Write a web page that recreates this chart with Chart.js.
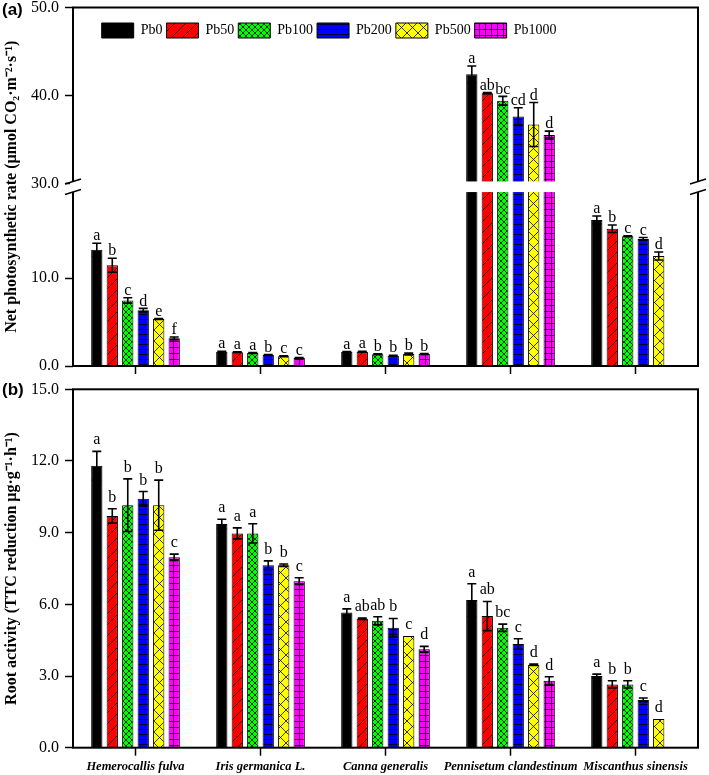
<!DOCTYPE html>
<html>
<head>
<meta charset="utf-8">
<script src="https://cdn.jsdelivr.net/npm/chart.js@4.4.1/dist/chart.umd.min.js"></script>
<style>
  html, body { margin: 0; padding: 0; background: #fff; }
  #page { position: relative; width: 709px; height: 775px; overflow: hidden; }
  canvas { position: absolute; left: 0; }
  #chartA { top: 0; }
  #chartB { top: 380px; }
  .panel { position: absolute; left: 2px; font: bold 17px "Liberation Sans", Arial, sans-serif; color: #000; }
</style>
</head>
<body>
<div id="page">
  <canvas id="chartA" width="709" height="380"></canvas>
  <canvas id="chartB" width="709" height="395"></canvas>
  <div class="panel" style="top:0px">(a)</div>
  <div class="panel" style="top:380px">(b)</div>
</div>
<script>
const species = ['Hemerocallis fulva', 'Iris germanica L.', 'Canna generalis', 'Pennisetum clandestinum', 'Miscanthus sinensis'];
const treatments = ['Pb0', 'Pb50', 'Pb100', 'Pb200', 'Pb500', 'Pb1000'];

// (a) net photosynthetic rate
const pnPb0 = [13.2, 1.63, 1.60, 42.4, 16.6];
const pnPb50 = [11.45, 1.55, 1.63, 40.25, 15.6];
const pnPb100 = [7.45, 1.48, 1.33, 39.4, 14.75];
const pnPb200 = [6.35, 1.25, 1.17, 37.6, 14.45];
const pnPb500 = [5.35, 1.10, 1.36, 36.7, 12.5];
const pnPb1000 = [3.15, 0.90, 1.36, 35.5, null];

const pnPb0Sd = [0.75, 0.05, 0.05, 0.95, 0.45];
const pnPb50Sd = [0.8, 0.05, 0.05, 0.08, 0.42];
const pnPb100Sd = [0.3, 0.05, 0.05, 0.5, 0.05];
const pnPb200Sd = [0.2, 0.05, 0.05, 1.0, 0.15];
const pnPb500Sd = [0.05, 0.05, 0.1, 2.5, 0.45];
const pnPb1000Sd = [0.15, 0.05, 0.05, 0.45, null];

const pnPb0Sig = ['a', 'a', 'a', 'a', 'a'];
const pnPb50Sig = ['b', 'a', 'a', 'ab', 'b'];
const pnPb100Sig = ['c', 'a', 'b', 'bc', 'c'];
const pnPb200Sig = ['d', 'b', 'b', 'cd', 'c'];
const pnPb500Sig = ['e', 'c', 'b', 'd', 'd'];
const pnPb1000Sig = ['f', 'c', 'b', 'd', ''];

const pnTicks = [0, 10, 30, 40, 50];
const pnBreak = [20, 30];

// (b) root activity
const raPb0 = [11.8, 9.36, 5.66, 6.18, 3.0];
const raPb50 = [9.7, 8.97, 5.4, 5.51, 2.65];
const raPb100 = [10.15, 8.97, 5.31, 5.02, 2.65];
const raPb200 = [10.42, 7.64, 5.02, 4.34, 2.0];
const raPb500 = [10.15, 7.64, 4.67, 3.47, 1.2];
const raPb1000 = [7.97, 6.97, 4.12, 2.8, null];

const raPb0Sd = [0.6, 0.2, 0.15, 0.68, 0.08];
const raPb50Sd = [0.3, 0.23, 0.03, 0.61, 0.15];
const raPb100Sd = [1.1, 0.4, 0.17, 0.15, 0.15];
const raPb200Sd = [0.3, 0.18, 0.39, 0.22, 0.08];
const raPb500Sd = [1.05, 0.05, 0, 0.03, 0];
const raPb1000Sd = [0.13, 0.14, 0.12, 0.17, null];

const raPb0Sig = ['a', 'a', 'a', 'a', 'a'];
const raPb50Sig = ['b', 'a', 'ab', 'ab', 'b'];
const raPb100Sig = ['b', 'a', 'ab', 'bc', 'b'];
const raPb200Sig = ['b', 'b', 'b', 'c', 'c'];
const raPb500Sig = ['b', 'b', 'c', 'd', 'd'];
const raPb1000Sig = ['c', 'c', 'd', 'd', ''];

const raTicks = [0, 3, 6, 9, 12, 15];

const serif = '"Liberation Serif", "Times New Roman", serif';

function pattern(color, size, draw) {
    const c = document.createElement('canvas');
    c.width = size;
    c.height = size;
    const g = c.getContext('2d');
    g.fillStyle = color;
    g.fillRect(0, 0, size, size);
    g.strokeStyle = '#000';
    g.lineWidth = 0.8;
    g.beginPath();
    draw(g, size);
    g.stroke();
    return g.createPattern(c, 'repeat');
}

const fills = [
    '#000000',
    pattern('#ff0000', 11, (g, s) => { g.moveTo(-1, s + 1); g.lineTo(s + 1, -1); }),
    pattern('#00ff00', 6, (g, s) => { g.moveTo(0, 0); g.lineTo(s, s); g.moveTo(0, s); g.lineTo(s, 0); }),
    pattern('#0000ff', 5, (g, s) => { g.moveTo(0, s - 0.5); g.lineTo(s, s - 0.5); }),
    pattern('#ffff00', 11, (g, s) => { g.moveTo(0, 0); g.lineTo(s, s); g.moveTo(0, s); g.lineTo(s, 0); }),
    pattern('#ff00ff', 6, (g, s) => { g.moveTo(0, s - 0.5); g.lineTo(s, s - 0.5); g.moveTo(s - 0.5, 0); g.lineTo(s - 0.5, s); })
];

// linear scale with a squeezed gap between pnBreak[0] and pnBreak[1]
const breakGap = 0.75;
class BrokenScale extends Chart.LinearScale {
    toSpan(v) {
        const lo = pnBreak[0], hi = pnBreak[1];
        if (v <= lo) return v;
        if (v >= hi) return v - hi + lo + breakGap;
        return lo + (v - lo) / (hi - lo) * breakGap;
    }
    fromSpan(d) {
        const lo = pnBreak[0], hi = pnBreak[1];
        if (d <= lo) return d;
        if (d >= lo + breakGap) return d - lo - breakGap + hi;
        return lo + (d - lo) / breakGap * (hi - lo);
    }
    getPixelForValue(v) {
        if (v === null || isNaN(v)) return NaN;
        const a = this.toSpan(this.min), b = this.toSpan(this.max);
        return this.getPixelForDecimal((this.toSpan(v) - a) / (b - a));
    }
    getValueForPixel(p) {
        const a = this.toSpan(this.min), b = this.toSpan(this.max);
        return this.fromSpan(a + this.getDecimalForPixel(p) * (b - a));
    }
}
BrokenScale.id = 'broken';
BrokenScale.defaults = Object.assign({}, Chart.LinearScale.defaults);
Chart.register(BrokenScale);

function makeDatasets(series) {
    return series.map((data, i) => ({
        label: treatments[i],
        data: data,
        backgroundColor: fills[i],
        borderColor: '#000',
        borderWidth: 1,
        barPercentage: 0.73,
        categoryPercentage: 0.743
    }));
}

function decorations(errs, sigs, hasBreak) {
    return {
        id: 'decorations',
        afterDatasetsDraw(chart) {
            const ctx = chart.ctx;
            const area = chart.chartArea;
            const y = chart.scales.y;
            ctx.save();
            ctx.strokeStyle = '#000';
            ctx.lineWidth = 2;
            ctx.strokeRect(area.left, area.top, area.right - area.left, area.bottom - area.top);
            if (hasBreak) {
                const top = y.getPixelForValue(pnBreak[1]) - 2;
                const bottom = y.getPixelForValue(pnBreak[0]) + 2;
                ctx.fillStyle = '#fff';
                ctx.fillRect(area.left - 3, top, area.right - area.left + 6, bottom - top);
                ctx.lineWidth = 1.5;
                [area.left, area.right].forEach(x => {
                    [top, bottom].forEach(yy => {
                        ctx.beginPath();
                        ctx.moveTo(x - 8, yy + 2.5);
                        ctx.lineTo(x + 8, yy - 2.5);
                        ctx.stroke();
                    });
                });
            }
            ctx.lineWidth = 1.6;
            ctx.fillStyle = '#000';
            ctx.font = '16px ' + serif;
            ctx.textAlign = 'center';
            chart.data.datasets.forEach((ds, i) => {
                chart.getDatasetMeta(i).data.forEach((bar, j) => {
                    const m = ds.data[j];
                    if (m === null) return;
                    const e = errs[i][j];
                    const hi = y.getPixelForValue(m + e);
                    if (e > 0) {
                        const lo = y.getPixelForValue(m - e);
                        ctx.beginPath();
                        ctx.moveTo(bar.x, lo);
                        ctx.lineTo(bar.x, hi);
                        ctx.moveTo(bar.x - 4.5, hi);
                        ctx.lineTo(bar.x + 4.5, hi);
                        ctx.moveTo(bar.x - 4.5, lo);
                        ctx.lineTo(bar.x + 4.5, lo);
                        ctx.stroke();
                    }
                    ctx.fillText(sigs[i][j], bar.x, hi - 7);
                });
            });
            ctx.restore();
        }
    };
}

// legend sits inside the plot frame, in one row
const legendSpot = {
    id: 'legendSpot',
    beforeLayout(chart) {
        if (chart.legend) chart.legend.isHorizontal = () => true;
    },
    afterLayout(chart) {
        if (!chart.legend) return;
        chart.legend.left = 97.7;
        chart.legend.top = 19;
    }
};

function yAxis(type, max, tickList, title) {
    return {
        type: type,
        min: 0,
        max: max,
        afterBuildTicks: s => { s.ticks = tickList.map(v => ({ value: v })); },
        afterFit: s => { s.width = 73; s.paddingTop = 0; s.paddingBottom = 0; },
        border: { display: false },
        grid: { drawOnChartArea: false, tickLength: 8, tickWidth: 1.5, tickColor: '#000' },
        ticks: { color: '#000', font: { family: serif, size: 16 }, padding: 6, autoSkip: false, callback: v => v.toFixed(1) },
        title: { display: true, text: title, color: '#000', font: { family: serif, size: 16, weight: 'bold' }, padding: { top: 2, bottom: 0 } }
    };
}

function xAxis(showLabels, height) {
    return {
        offset: true,
        afterFit: s => { s.height = height; s.paddingLeft = 0; s.paddingRight = 0; },
        border: { display: false },
        grid: { offset: false, drawOnChartArea: false, tickLength: 8, tickWidth: 1.5, tickColor: '#000' },
        ticks: {
            display: showLabels, color: '#000', maxRotation: 0, autoSkip: false, padding: 4,
            font: { family: serif, size: 12.5, weight: 'bold', style: 'italic' }
        }
    };
}

new Chart(document.getElementById('chartA'), {
    type: 'bar',
    data: {
        labels: species,
        datasets: makeDatasets([pnPb0, pnPb50, pnPb100, pnPb200, pnPb500, pnPb1000])
    },
    options: {
        responsive: false,
        animation: false,
        devicePixelRatio: 1,
        layout: { padding: { top: 7.5, right: 11, bottom: 0, left: 0 } },
        scales: {
            x: xAxis(false, 14),
            y: yAxis('broken', 50, pnTicks, 'Net photosynthetic rate (μmol CO₂·m⁻²·s⁻¹)')
        },
        plugins: {
            legend: {
                position: 'chartArea',
                align: 'start',
                labels: { boxWidth: 32, boxHeight: 15, padding: 4, color: '#000', font: { family: serif, size: 14 } }
            },
            tooltip: { enabled: false }
        }
    },
    plugins: [legendSpot, decorations(
        [pnPb0Sd, pnPb50Sd, pnPb100Sd, pnPb200Sd, pnPb500Sd, pnPb1000Sd],
        [pnPb0Sig, pnPb50Sig, pnPb100Sig, pnPb200Sig, pnPb500Sig, pnPb1000Sig], true)]
});

new Chart(document.getElementById('chartB'), {
    type: 'bar',
    data: {
        labels: species,
        datasets: makeDatasets([raPb0, raPb50, raPb100, raPb200, raPb500, raPb1000])
    },
    options: {
        responsive: false,
        animation: false,
        devicePixelRatio: 1,
        layout: { padding: { top: 9.3, right: 11, bottom: 0, left: 0 } },
        scales: {
            x: xAxis(true, 27.3),
            y: yAxis('linear', 15, raTicks, 'Root activity (TTC reduction μg·g⁻¹·h⁻¹)')
        },
        plugins: {
            legend: { display: false },
            tooltip: { enabled: false }
        }
    },
    plugins: [decorations(
        [raPb0Sd, raPb50Sd, raPb100Sd, raPb200Sd, raPb500Sd, raPb1000Sd],
        [raPb0Sig, raPb50Sig, raPb100Sig, raPb200Sig, raPb500Sig, raPb1000Sig], false)]
});
</script>
</body>
</html>
